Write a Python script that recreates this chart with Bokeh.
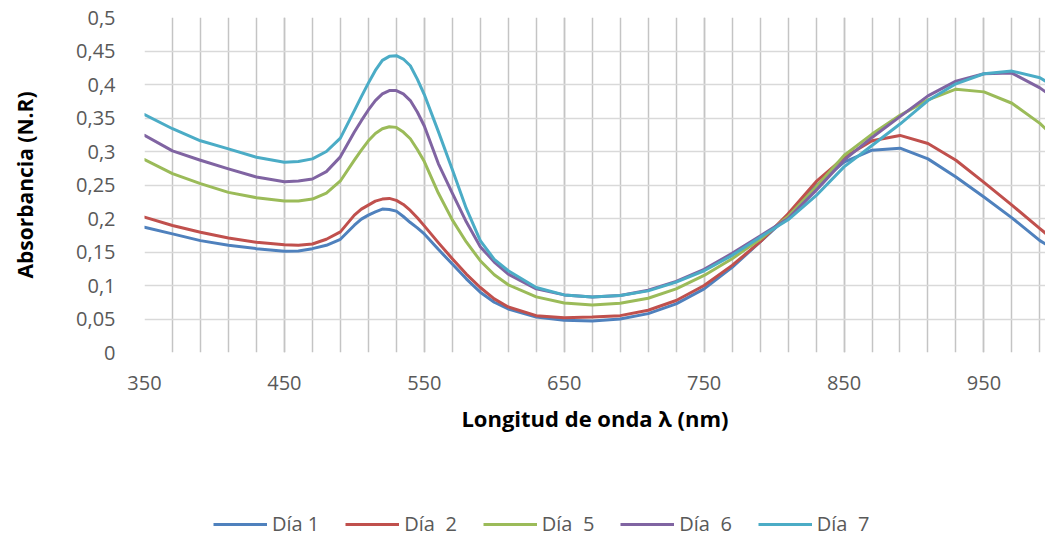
from bokeh.plotting import figure
from bokeh.models import Range1d, FixedTicker, CustomJSTickFormatter, Legend, LegendItem
from bokeh.layouts import column
from bokeh.embed import file_html
from bokeh.resources import INLINE

wavelength = [350, 370, 390, 410, 430, 450, 460, 470, 480, 490, 500, 505, 510, 515, 520, 525, 530, 535, 540,
              545, 550, 560, 570, 580, 590, 600, 610, 630, 650, 670, 690, 710, 730, 750, 770, 790, 810, 830,
              850, 870, 890, 910, 930, 950, 970, 990, 994]

dia1 = [0.187, 0.177, 0.167, 0.160, 0.155, 0.151, 0.1515, 0.155, 0.160, 0.169, 0.190, 0.199, 0.205, 0.210,
        0.214, 0.2135, 0.211, 0.203, 0.194, 0.186, 0.177, 0.154, 0.132, 0.110, 0.090, 0.075, 0.065, 0.053,
        0.048, 0.047, 0.050, 0.058, 0.0726, 0.095, 0.127, 0.165, 0.203, 0.249, 0.284, 0.302, 0.305, 0.289,
        0.262, 0.232, 0.201, 0.167, 0.162]
dia2 = [0.202, 0.1895, 0.1795, 0.171, 0.1645, 0.1607, 0.160, 0.162, 0.169, 0.180, 0.205, 0.214, 0.220, 0.226,
        0.229, 0.230, 0.227, 0.221, 0.212, 0.201, 0.189, 0.164, 0.140, 0.117, 0.097, 0.080, 0.068, 0.055,
        0.052, 0.053, 0.055, 0.063, 0.0776, 0.100, 0.130, 0.165, 0.207, 0.255, 0.291, 0.316, 0.324, 0.312,
        0.287, 0.254, 0.220, 0.185, 0.178]
dia5 = [0.288, 0.267, 0.252, 0.239, 0.231, 0.226, 0.226, 0.229, 0.238, 0.256, 0.287, 0.302, 0.316, 0.327,
        0.334, 0.337, 0.336, 0.329, 0.319, 0.303, 0.285, 0.238, 0.198, 0.165, 0.137, 0.116, 0.101, 0.083,
        0.074, 0.071, 0.0736, 0.081, 0.095, 0.115, 0.140, 0.169, 0.203, 0.247, 0.294, 0.326, 0.354, 0.377,
        0.393, 0.389, 0.372, 0.342, 0.334]
dia6 = [0.324, 0.301, 0.287, 0.274, 0.262, 0.255, 0.256, 0.259, 0.270, 0.292, 0.329, 0.346, 0.362, 0.376,
        0.386, 0.391, 0.391, 0.386, 0.376, 0.359, 0.338, 0.282, 0.238, 0.195, 0.158, 0.135, 0.117, 0.095,
        0.086, 0.083, 0.085, 0.093, 0.106, 0.124, 0.148, 0.174, 0.200, 0.242, 0.287, 0.321, 0.352, 0.383,
        0.405, 0.416, 0.417, 0.395, 0.389]
dia7 = [0.355, 0.334, 0.316, 0.304, 0.2915, 0.284, 0.285, 0.289, 0.300, 0.320, 0.361, 0.382, 0.402, 0.421,
        0.436, 0.442, 0.443, 0.438, 0.428, 0.408, 0.385, 0.330, 0.273, 0.215, 0.167, 0.139, 0.122, 0.097,
        0.086, 0.083, 0.085, 0.092, 0.105, 0.122, 0.145, 0.172, 0.198, 0.234, 0.277, 0.309, 0.341, 0.376,
        0.401, 0.416, 0.420, 0.410, 0.405]

series_names = ["Día 1", "Día  2", "Día  5", "Día  6", "Día  7"]
series_values = [dia1, dia2, dia5, dia6, dia7]
series_colors = ["#4F81BD", "#C0504D", "#9BBB59", "#8064A2", "#4BACC6"]

x_major_ticks = [350, 450, 550, 650, 750, 850, 950]
x_minor_ticks = list(range(350, 1000, 20))
y_ticks = [0, 0.05, 0.1, 0.15, 0.2, 0.25, 0.3, 0.35, 0.4, 0.45, 0.5]

FONT = "Open Sans"

# ---------------- main chart ----------------
p = figure(width=1045, height=440, output_backend="svg", toolbar_location=None,
           x_range=Range1d(350, 994), y_range=Range1d(0, 0.5),
           min_border_left=144, min_border_right=0, min_border_top=17, min_border_bottom=88)
p.outline_line_color = None
p.background_fill_color = "white"
p.border_fill_color = "white"

p.xaxis.ticker = FixedTicker(ticks=x_major_ticks, minor_ticks=x_minor_ticks)
p.yaxis.ticker = FixedTicker(ticks=y_ticks)
p.yaxis.formatter = CustomJSTickFormatter(code="""
    let s = tick.toFixed(2).replace(/0+$/, '').replace(/\\.$/, '');
    return s.replace('.', ',');
""")
for ax in (p.xaxis[0], p.yaxis[0]):
    ax.axis_line_color = None
    ax.major_tick_line_color = None
    ax.minor_tick_line_color = None
    ax.major_label_text_font = FONT
    ax.major_label_text_font_size = "20px"
    ax.major_label_text_color = "#595959"
    ax.axis_label_text_font = FONT
    ax.axis_label_text_font_style = "bold"
    ax.axis_label_text_color = "#000000"

p.xaxis.axis_label = "Longitud de onda λ (nm)"
p.xaxis.axis_label_text_font_size = "22px"
p.xaxis.major_label_standoff = 17
p.xaxis.axis_label_standoff = 10

p.yaxis.axis_label = "Absorbancia (N.R)"
p.yaxis.axis_label_text_font_size = "21px"
p.yaxis.major_label_standoff = 23
p.yaxis.axis_label_standoff = 34

p.xgrid.grid_line_color = "#c4c4c4"
p.xgrid.grid_line_width = 1.5
p.xgrid.minor_grid_line_color = "#c4c4c4"
p.xgrid.minor_grid_line_width = 1.5
p.ygrid.grid_line_color = "#d9d9d9"
p.ygrid.grid_line_width = 1.5

for vals, col in zip(series_values, series_colors):
    p.line(wavelength, vals, line_color=col, line_width=3, line_cap="round", line_join="round")

# ---------------- legend strip ----------------
lg = figure(width=1045, height=97, output_backend="svg", toolbar_location=None,
            x_range=Range1d(0, 1), y_range=Range1d(0, 1),
            min_border_left=0, min_border_right=0, min_border_top=0, min_border_bottom=0)
lg.outline_line_color = None
lg.axis.visible = False
lg.grid.visible = False
lg.background_fill_color = "white"
lg.border_fill_color = "white"

items = []
for name, vals, col in zip(series_names, series_values, series_colors):
    r = lg.line(wavelength, vals, line_color=col, line_width=3)   # lies outside this strip's view
    items.append(LegendItem(label=name, renderers=[r]))

legend = Legend(items=items, orientation="horizontal", location=(69, 0),
                glyph_width=54, glyph_height=20, label_standoff=5, spacing=26, padding=0, margin=0,
                label_text_font=FONT, label_text_font_size="20px", label_text_color="#595959",
                border_line_color=None, background_fill_alpha=0)
lg.add_layout(legend, "center")

open("out.html", "w").write(file_html(column(p, lg, spacing=0), INLINE))
